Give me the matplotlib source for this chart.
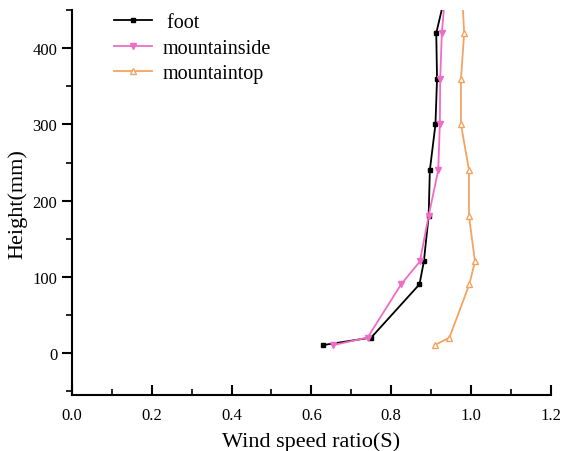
import matplotlib.pyplot as plt
from matplotlib.ticker import MultipleLocator

plt.rcParams['font.family'] = ['Liberation Serif', 'DejaVu Serif']

# Measurement heights (mm) and wind speed ratios at the three positions
height = [10, 20, 90, 120, 180, 240, 300, 360, 420, 480]
foot = [0.628, 0.750, 0.871, 0.882, 0.894, 0.897, 0.911, 0.915, 0.913, 0.940]
mountainside = [0.654, 0.741, 0.825, 0.872, 0.894, 0.918, 0.922, 0.923, 0.927, 0.937]
mountaintop = [0.909, 0.946, 0.996, 1.010, 0.995, 0.995, 0.975, 0.975, 0.983, 0.977]

fig = plt.figure(figsize=(5.62, 4.52), dpi=100)
ax = fig.add_axes([0.128, 0.123, 0.852, 0.852])

ax.plot(foot, height, color='black', marker='s', markersize=3.5, lw=1.3, label=' foot')
ax.plot(mountainside, height, color='#F06CC6', marker='v', markersize=4, lw=1.3,
        label='mountainside')
ax.plot(mountaintop, height, color='#F4A460', marker='^', markersize=5, lw=1.3,
        markerfacecolor='white', label='mountaintop')

ax.set_xlim(0, 1.2)
ax.set_ylim(-56, 450)
ax.xaxis.set_major_locator(MultipleLocator(0.2))
ax.xaxis.set_minor_locator(MultipleLocator(0.1))
ax.yaxis.set_major_locator(MultipleLocator(100))
ax.yaxis.set_minor_locator(MultipleLocator(50))
ax.xaxis.set_major_formatter(plt.FormatStrFormatter('%.1f'))

for side in ['top', 'right']:
    ax.spines[side].set_visible(False)
for side in ['left', 'bottom']:
    ax.spines[side].set_linewidth(1.5)

ax.tick_params(axis='x', which='major', direction='in', length=7, width=1.5,
               labelsize=12, pad=8)
ax.tick_params(axis='x', which='minor', direction='in', length=4, width=1.2)
ax.tick_params(axis='y', which='major', direction='out', length=7, width=1.5,
               labelsize=12)
ax.tick_params(axis='y', which='minor', direction='out', length=4, width=1.2)

ax.set_xlabel('Wind speed ratio(S)', fontsize=16, labelpad=6)
ax.set_ylabel('Height(mm)', fontsize=16, labelpad=4)

ax.legend(loc='upper left', bbox_to_anchor=(0.05, 1.04), frameon=False,
          fontsize=14.5, handlelength=1.9, labelspacing=0.32, handletextpad=0.5)

fig.savefig('out.png', dpi=100)
